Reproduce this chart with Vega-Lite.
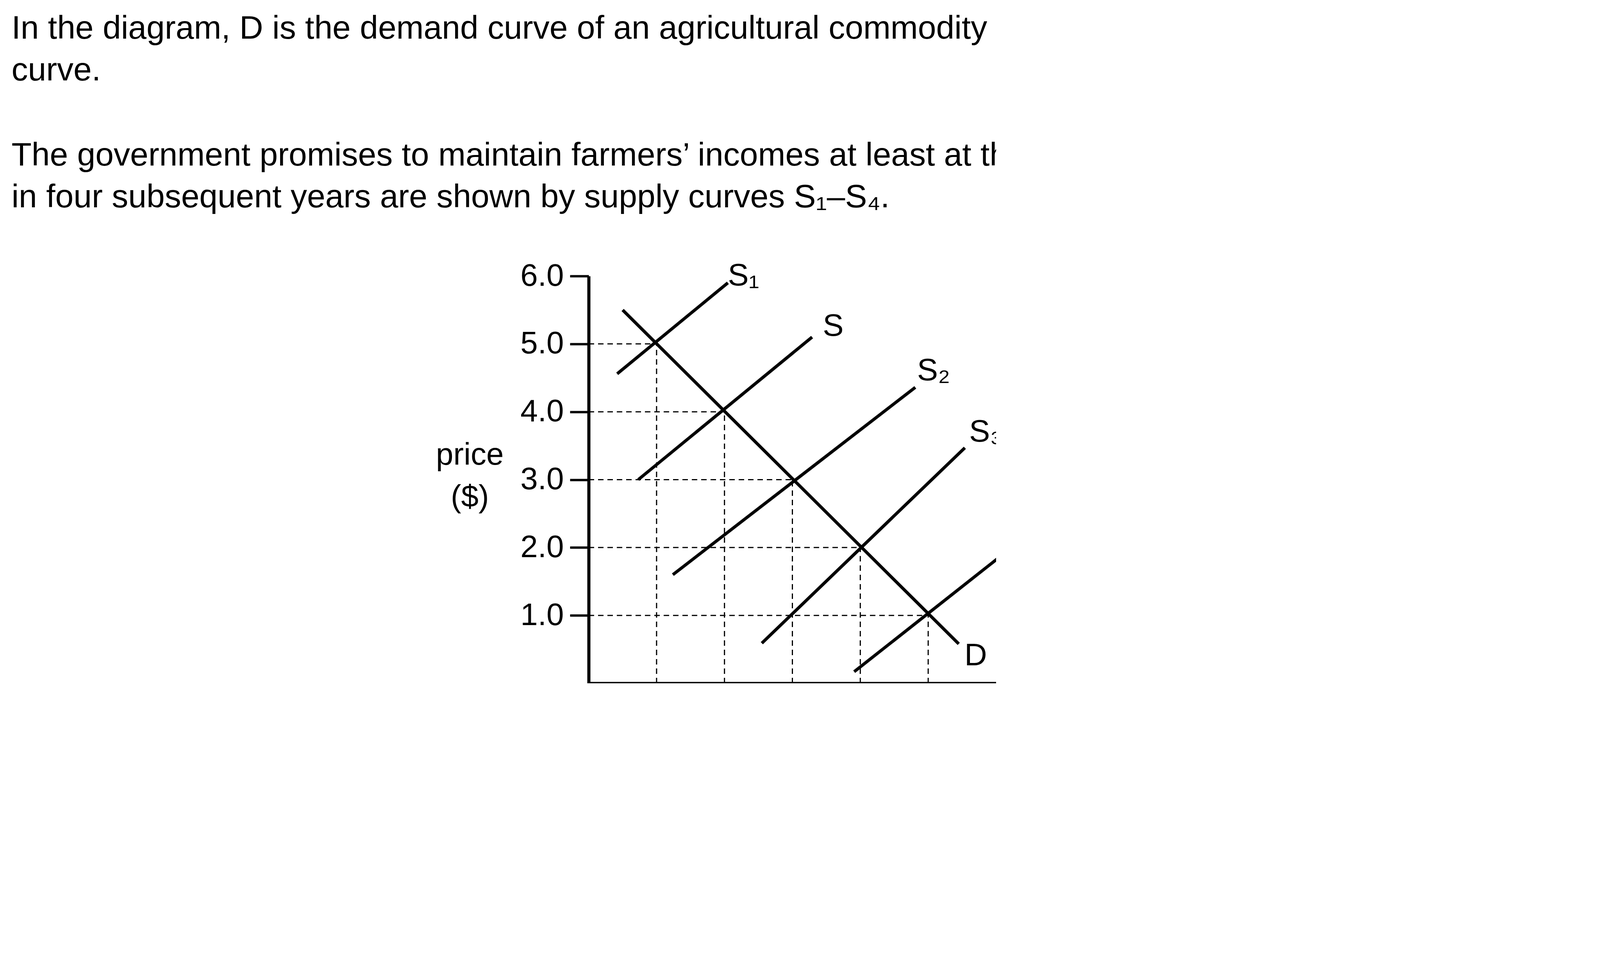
{
  "$schema": "https://vega.github.io/schema/vega-lite/v6.json",
  "background": "white",
  "autosize": {"type": "none"},
  "padding": {"left": 1507, "top": 707, "right": 0, "bottom": 0},
  "width": 1043,
  "height": 1043,
  "datasets": {
    "curves": [
      {"s": "D", "x": 0.5, "y": 5.5}, {"s": "D", "x": 5.45, "y": 0.58},
      {"s": "S1", "x": 0.42, "y": 4.56}, {"s": "S1", "x": 2.05, "y": 5.9},
      {"s": "S", "x": 0.73, "y": 3.0}, {"s": "S", "x": 3.29, "y": 5.1},
      {"s": "S2", "x": 1.24, "y": 1.6}, {"s": "S2", "x": 4.81, "y": 4.36},
      {"s": "S3", "x": 2.55, "y": 0.59}, {"s": "S3", "x": 5.54, "y": 3.47},
      {"s": "S4", "x": 3.91, "y": 0.17}, {"s": "S4", "x": 6.52, "y": 2.23}
    ],
    "eq": [
      {"q": 1, "p": 5, "z": 0}, {"q": 2, "p": 4, "z": 0}, {"q": 3, "p": 3, "z": 0}, {"q": 4, "p": 2, "z": 0}, {"q": 5, "p": 1, "z": 0}
    ],
    "labels": [
      {"x": 2.28, "y": 6.0, "t": "S₁"},
      {"x": 3.6, "y": 5.26, "t": "S"},
      {"x": 5.08, "y": 4.6, "t": "S₂"},
      {"x": 5.85, "y": 3.7, "t": "S₃"},
      {"x": 6.86, "y": 2.4, "t": "S₄"},
      {"x": 5.7, "y": 0.4, "t": "D"},
      {"x": -0.2, "y": -0.3, "t": "0"},
      {"x": -1.75, "y": 3.36, "t": "price"},
      {"x": -1.75, "y": 2.74, "t": "($)"},
      {"x": 3.0, "y": -1.46, "t": "quantity (’000 tonnes)"}
    ],
    "texts": [
      {"x": -8.5, "y": 9.5, "t": "In the diagram, D is the demand curve of an agricultural commodity and S is the initial supply"},
      {"x": -8.5, "y": 8.88, "t": "curve."},
      {"x": -8.5, "y": 7.63, "t": "The government promises to maintain farmers’ incomes at least at this initial level. The harvests"},
      {"x": -8.5, "y": 7.01, "t": "in four subsequent years are shown by supply curves S₁–S₄."},
      {"x": -8.5, "y": -2.92, "t": "How much in total will the government pay to support farmers over the four subsequent years?"},
      {"x": -7.45, "y": -4.02, "t": "$0"},
      {"x": -2.69, "y": -4.02, "t": "$3000"},
      {"x": 2.1, "y": -4.02, "t": "$6000"},
      {"x": 6.91, "y": -4.02, "t": "$10 000"}
    ],
    "options": [
      {"x": -8.51, "y": -4.02, "t": "A"},
      {"x": -3.7, "y": -4.02, "t": "B"},
      {"x": 1.07, "y": -4.02, "t": "C"},
      {"x": 5.85, "y": -4.02, "t": "D"}
    ]
  },
  "layer": [
    {
      "data": {"name": "curves"},
      "mark": {"type": "line", "strokeWidth": 8, "color": "black"},
      "encoding": {
        "x": {"field": "x", "type": "quantitative", "scale": {"domain": [0, 6], "nice": false},
          "axis": {"values": [1, 2, 3, 4, 5, 6], "title": null, "grid": false, "domainWidth": 8, "domainColor": "black",
            "tickColor": "black", "tickWidth": 6, "tickSize": 48, "labelFontSize": 80, "labelFont": "Liberation Sans",
            "labelColor": "black", "labelPadding": 12}},
        "y": {"field": "y", "type": "quantitative", "scale": {"domain": [0, 6], "nice": false},
          "axis": {"values": [1, 2, 3, 4, 5, 6], "title": null, "grid": false, "domainWidth": 8, "domainColor": "black",
            "tickColor": "black", "tickWidth": 6, "tickSize": 48, "labelFontSize": 80, "labelFont": "Liberation Sans",
            "labelColor": "black", "labelPadding": 16}},
        "detail": {"field": "s"}
      }
    },
    {
      "data": {"name": "eq"},
      "mark": {"type": "rule", "strokeDash": [14, 10], "strokeWidth": 3, "color": "black"},
      "encoding": {
        "x": {"field": "z", "type": "quantitative"},
        "x2": {"field": "q"},
        "y": {"field": "p", "type": "quantitative"}
      }
    },
    {
      "data": {"name": "eq"},
      "mark": {"type": "rule", "strokeDash": [14, 10], "strokeWidth": 3, "color": "black"},
      "encoding": {
        "x": {"field": "q", "type": "quantitative"},
        "y": {"field": "z", "type": "quantitative"},
        "y2": {"field": "p"}
      }
    },
    {
      "data": {"name": "labels"},
      "mark": {"type": "text", "fontSize": 80, "font": "Liberation Sans", "color": "black", "align": "center", "baseline": "middle"},
      "encoding": {
        "x": {"field": "x", "type": "quantitative"},
        "y": {"field": "y", "type": "quantitative"},
        "text": {"field": "t"}
      }
    },
    {
      "data": {"name": "texts"},
      "mark": {"type": "text", "fontSize": 84, "font": "Liberation Sans", "color": "black", "align": "left", "baseline": "alphabetic"},
      "encoding": {
        "x": {"field": "x", "type": "quantitative"},
        "y": {"field": "y", "type": "quantitative"},
        "text": {"field": "t"}
      }
    },
    {
      "data": {"name": "options"},
      "mark": {"type": "text", "fontSize": 84, "font": "Liberation Sans", "fontWeight": "bold", "color": "black", "align": "left", "baseline": "alphabetic"},
      "encoding": {
        "x": {"field": "x", "type": "quantitative"},
        "y": {"field": "y", "type": "quantitative"},
        "text": {"field": "t"}
      }
    }
  ],
  "config": {"view": {"stroke": null}}
}
